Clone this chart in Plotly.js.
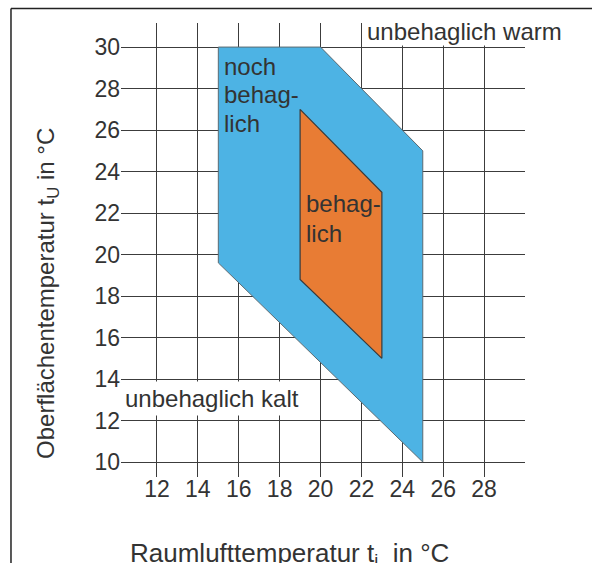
<!DOCTYPE html>
<html>
<head>
<meta charset="utf-8">
<script src="https://cdn.plot.ly/plotly-3.0.1.min.js"></script>
<style>html,body{margin:0;padding:0;background:#fff;}#chart{width:592px;height:563px;}</style>
</head>
<body>
<div id="chart"></div>
<script>
// Zone "noch behaglich" (blue)
const nochX = [15, 20, 25, 25, 15, 15];
const nochY = [30, 30, 25, 10, 19.6, 30];
// Zone "behaglich" (orange)
const behX = [19, 23, 23, 19, 19];
const behY = [27, 23, 15, 18.8, 27];
// Axis ticks
const xTicks = [12, 14, 16, 18, 20, 22, 24, 26, 28];
const yTicks = [10, 12, 14, 16, 18, 20, 22, 24, 26, 28, 30];

const FONT = "Liberation Sans, Arial, sans-serif";
const TXT = "#333333";

const traces = [
  {x: nochX, y: nochY, type: "scatter", mode: "lines", fill: "toself",
   fillcolor: "#4DB3E4", line: {color: "#5a6a72", width: 1}, hoverinfo: "skip", showlegend: false},
  {x: behX, y: behY, type: "scatter", mode: "lines", fill: "toself",
   fillcolor: "#E87C34", line: {color: "#3a3a3a", width: 1.2}, hoverinfo: "skip", showlegend: false}
];

const ann = (text, x, y, opts) => Object.assign({
  text: text, x: x, y: y, xref: "x", yref: "y", showarrow: false,
  xanchor: "left", yanchor: "middle", font: {family: FONT, size: 24, color: TXT}
}, opts || {});

const layout = {
  width: 592, height: 563,
  margin: {l: 121, r: 67, t: 23, b: 86},
  paper_bgcolor: "#ffffff", plot_bgcolor: "#ffffff",
  showlegend: false,
  xaxis: {range: [10.24, 30], tickvals: xTicks, ticktext: xTicks.map(String),
    showgrid: true, gridcolor: "#3c3c3c", gridwidth: 1, zeroline: false, showline: false,
    ticks: "", ticklabelstandoff: -4, tickfont: {family: FONT, size: 23, color: TXT}, fixedrange: true},
  yaxis: {range: [9.28, 31.16], tickvals: yTicks, ticktext: yTicks.map(String),
    showgrid: true, gridcolor: "#3c3c3c", gridwidth: 1, zeroline: false, showline: false,
    ticks: "", tickfont: {family: FONT, size: 23, color: TXT}, fixedrange: true},
  annotations: [
    ann("noch", 15.2, 29.07),
    ann("behag-", 15.2, 27.72),
    ann("lich", 15.2, 26.32),
    ann("behag-", 19.18, 22.45),
    ann("lich", 19.18, 21.02),
    ann("unbehaglich kalt", 10.25, 13.05, {bgcolor: "#ffffff", borderpad: 3}),
    ann("unbehaglich warm", 22.2, 30.05, {yanchor: "bottom", bgcolor: "#ffffff", borderpad: 0}),
    {text: "Oberflächentemperatur t<sub>U</sub> in °C", xref: "paper", yref: "paper",
     x: -0.1805, y: 0.4033, xanchor: "center", yanchor: "middle", textangle: -90, showarrow: false,
     font: {family: FONT, size: 24, color: TXT}},
    {text: "Raumlufttemperatur t<sub>i</sub>  in °C", xref: "paper", yref: "paper",
     x: 0.417, y: -0.170, xanchor: "center", yanchor: "middle", showarrow: false,
     font: {family: FONT, size: 26, color: TXT}}
  ],
  shapes: [
    {type: "line", xref: "paper", yref: "paper", x0: -0.2723, x1: 1.2, y0: 1.0322, y1: 1.0322,
     line: {color: "#222222", width: 1.5}},
    {type: "line", xref: "paper", yref: "paper", x0: -0.2723, x1: -0.2723, y0: 1.0322, y1: -0.25,
     line: {color: "#222222", width: 1.5}}
  ]
};

Plotly.newPlot("chart", traces, layout, {displayModeBar: false, staticPlot: true});
</script>
</body>
</html>
